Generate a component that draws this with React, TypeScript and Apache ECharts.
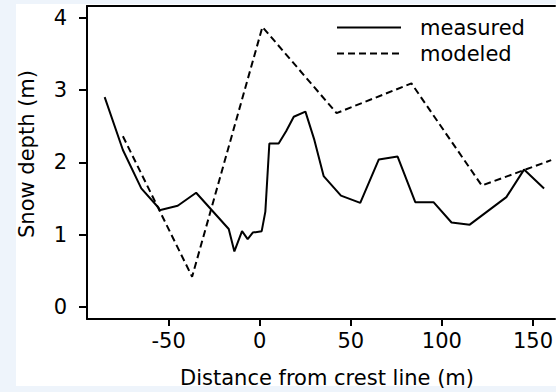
import React, { useEffect, useRef } from "react";
import * as echarts from "echarts";

const measuredX = [-85.1, -75.1, -65.0, -55.4, -55.0, -45.0, -34.9, -17.0, -13.9, -9.7, -6.6, -3.8, 1.1, 3.1, 5.3, 10.4, 14.5, 18.7, 25.1, 30.0, 35.1, 44.6, 55.2, 65.4, 75.7, 85.4, 95.4, 105.3, 115.3, 135.4, 145.1, 156.1];
const measuredY = [2.90, 2.17, 1.64, 1.37, 1.34, 1.40, 1.58, 1.08, 0.77, 1.05, 0.94, 1.03, 1.05, 1.32, 2.26, 2.26, 2.43, 2.63, 2.70, 2.31, 1.81, 1.54, 1.44, 2.04, 2.08, 1.45, 1.45, 1.17, 1.14, 1.52, 1.90, 1.64];
const modeledX = [-75.1, -37.1, 1.5, 42.2, 83.3, 121.9, 160.0];
const modeledY = [2.36, 0.42, 3.87, 2.68, 3.09, 1.68, 2.03];
const xTicks = [-50, 0, 50, 100, 150];
const yTicks = [0, 1, 2, 3, 4];
const seriesNames = ["measured", "modeled"];
const xTitle = "Distance from crest line (m)";
const yTitle = "Snow depth (m)";

const FONT = "DejaVu Sans";

export default function App() {
  const ref = useRef<HTMLDivElement>(null);
  useEffect(() => {
    if (!ref.current) return;
    const chart = echarts.init(ref.current, null, { renderer: "svg" });
    const pair = (xs: number[], ys: number[]) => xs.map((x, i) => [x, ys[i]]);
    chart.setOption({
      animation: false,
      backgroundColor: "#eef4fb",
      textStyle: { fontFamily: FONT },
      grid: { left: 87, top: 6, right: 0, bottom: 73, containLabel: false },
      legend: {
        orient: "vertical",
        left: 331,
        top: 12,
        itemWidth: 64,
        itemHeight: 14,
        itemGap: 5,
        data: seriesNames,
        itemStyle: { opacity: 0 },
        textStyle: { fontSize: 21, color: "#000", fontFamily: FONT, padding: [0, 0, 0, 14] },
      },
      xAxis: [
        {
          type: "value",
          min: -94.8,
          max: 162.1,
          position: "bottom",
          splitLine: { show: false },
          axisLine: { show: true, onZero: false, lineStyle: { color: "#000", width: 2 } },
          axisTick: { show: true, length: 7, customValues: xTicks, lineStyle: { color: "#000", width: 2 } },
          axisLabel: { customValues: xTicks, fontSize: 21, color: "#000", margin: 11, fontFamily: FONT },
        },
        {
          type: "value",
          min: -94.8,
          max: 162.1,
          position: "top",
          splitLine: { show: false },
          axisLine: { show: true, onZero: false, lineStyle: { color: "#000", width: 2 } },
          axisTick: { show: false },
          axisLabel: { show: false },
        },
      ],
      yAxis: {
        type: "value",
        min: -0.163,
        max: 4.159,
        splitLine: { show: false },
        axisLine: { show: true, onZero: false, lineStyle: { color: "#000", width: 2 } },
        axisTick: { show: true, length: 8, customValues: yTicks, lineStyle: { color: "#000", width: 2 } },
        axisLabel: { customValues: yTicks, fontSize: 21, color: "#000", margin: 20, fontFamily: FONT },
      },
      graphic: [
        { type: "rect", z: -10, shape: { x: 16, y: 4, width: 540, height: 382 }, style: { fill: "#ffffff" } },
        {
          type: "text",
          x: 327,
          y: 378,
          style: { text: xTitle, fontSize: 21, fill: "#000", fontFamily: FONT, align: "center", verticalAlign: "middle" },
        },
        {
          type: "text",
          x: 27,
          y: 154,
          rotation: Math.PI / 2,
          style: { text: yTitle, fontSize: 21, fill: "#000", fontFamily: FONT, align: "center", verticalAlign: "middle" },
        },
      ],
      series: [
        {
          name: seriesNames[0],
          type: "line",
          data: pair(measuredX, measuredY),
          symbol: "none",
          lineStyle: { color: "#000", width: 2, type: "solid" },
          itemStyle: { color: "#000" },
          clip: true,
        },
        {
          name: seriesNames[1],
          type: "line",
          data: pair(modeledX, modeledY),
          symbol: "none",
          lineStyle: { color: "#000", width: 2, type: [7, 4] },
          itemStyle: { color: "#000" },
          clip: true,
        },
      ],
    });
    return () => chart.dispose();
  }, []);
  return <div ref={ref} style={{ position: "fixed", left: 0, top: 0, width: 556, height: 392 }} />;
}
